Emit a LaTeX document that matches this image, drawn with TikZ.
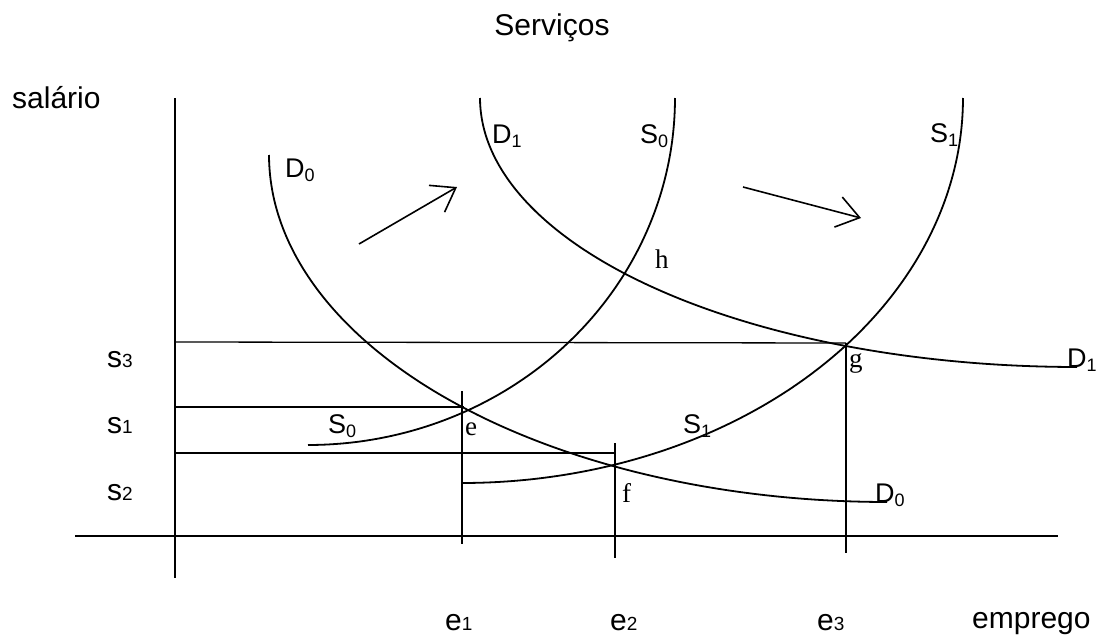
\documentclass[tikz,border=0pt]{standalone}
\usepackage{fontspec}
\setmainfont{Liberation Sans}
\newfontfamily\seriffont{Liberation Serif}
\usetikzlibrary{arrows.meta}
\newcommand{\crvlab}[2]{#1\raisebox{-4.5pt}{\fontsize{18}{20}\selectfont #2}}
\newcommand{\axlab}[2]{#1{\fontsize{19}{22}\selectfont #2}}
\begin{document}
\begin{tikzpicture}[x=1pt,y=-1pt,
  big/.style={font=\fontsize{30}{36}\selectfont, inner sep=0pt, anchor=base west},
  crv/.style={font=\fontsize{27}{32}\selectfont, inner sep=0pt, anchor=base west},
  ptl/.style={font=\seriffont\fontsize{27}{32}\selectfont, inner sep=0pt, anchor=base west},
  axisline/.style={line width=1.3pt},
  guide/.style={line width=1.3pt},
  curve/.style={line width=1.8pt, line join=round},
  shift arrow/.style={line width=1.6pt, -{Straight Barb[length=22pt,width=31pt,line width=1.6pt]}}]
\useasboundingbox (0,0) rectangle (1103,640);
% key points
\coordinate (e) at (467,409);
\coordinate (f) at (615,465);
\coordinate (g) at (846,343);
\coordinate (h) at (624,273);
\coordinate (ytop) at (175,98);
\coordinate (ybot) at (175,578);
\coordinate (xl) at (75,536);
\coordinate (xr) at (1058,536);
% axes
\draw[axisline] (ytop) -- (ybot);
\draw[axisline] (xl) -- (xr);
% guides
\draw[guide] (175,342) -- (g);
\draw[guide] (175,407) -- (464,407);
\draw[guide] (175,453) -- (615,453);
\draw[guide] (462,391) -- (462,544);
\draw[guide] (615,443) -- (615,558);
\draw[guide] (g) -- (846,553);
% curves (quarter ellipses)
\draw[curve] plot[smooth, domain=0:90, samples=80] ({887-618*cos(\x)}, {155+347*sin(\x)});
\draw[curve] plot[smooth, domain=0:90, samples=80] ({1077-597*cos(\x)}, {98+269*sin(\x)});
\draw[curve] plot[smooth, domain=0:90, samples=80] ({308+367*sin(\x)}, {98+347*cos(\x)});
\draw[curve] plot[smooth, domain=0:90, samples=80] ({462+501*sin(\x)}, {98+385*cos(\x)});
% shift arrows
\coordinate (a1s) at (359,244);
\coordinate (a1e) at (457,187);
\coordinate (a2s) at (743,187);
\coordinate (a2e) at (861,218);
\draw[shift arrow] (a1s) -- (a1e);
\draw[shift arrow] (a2s) -- (a2e);
% texts
\node[big, anchor=base] (title) at (552,35) {Serviços};
\node[big] (ylab) at (12,108) {salário};
\node[big] (xlab) at (972,628) {emprego};
\node[big] (s3) at (107,367) {\axlab{s}{3}};
\node[big] (s1) at (107,433) {\axlab{s}{1}};
\node[big] (s2) at (107,500) {\axlab{s}{2}};
\node[big] (e1) at (445,630) {\axlab{e}{1}};
\node[big] (e2) at (610,630) {\axlab{e}{2}};
\node[big] (e3) at (817,630) {\axlab{e}{3}};
\node[crv] (D0a) at (285,177) {\crvlab{D}{0}};
\node[crv] (D1a) at (492,143) {\crvlab{D}{1}};
\node[crv] (S0a) at (640,143) {\crvlab{S}{0}};
\node[crv] (S1a) at (930,142) {\crvlab{S}{1}};
\node[crv] (D1b) at (1067,367) {\crvlab{D}{1}};
\node[crv] (S0b) at (328,433) {\crvlab{S}{0}};
\node[crv] (S1b) at (683,433) {\crvlab{S}{1}};
\node[crv] (D0b) at (875,502) {\crvlab{D}{0}};
\node[ptl] (hl) at (655,268) {h};
\node[ptl] (gl) at (849,367) {g};
\node[ptl] (el) at (465,435) {e};
\node[ptl] (fl) at (622,502) {f};
\end{tikzpicture}
\end{document}
